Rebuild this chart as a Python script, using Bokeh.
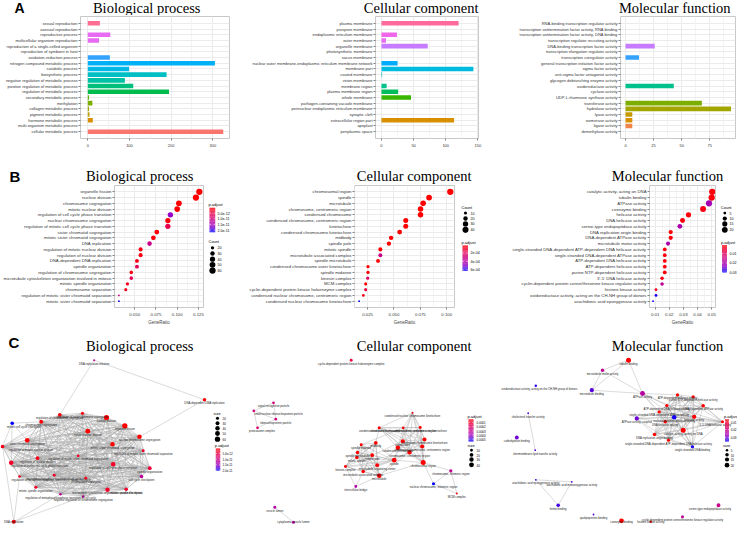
import itertools
import numpy as np
from bokeh.plotting import figure
from bokeh.layouts import row, column
from bokeh.models import FactorRange, Range1d, FixedTicker, PrintfTickFormatter, ColumnDataSource
from bokeh.core.properties import value
from bokeh.embed import file_html
from bokeh.resources import INLINE

SANS = "Liberation Sans"
SERIF = "Liberation Serif"
TFS = "14.5px"

# ===================== DATA =====================
# ---- Panel A: GO level bars
a_bp_terms = ["sexual reproduction", "asexual reproduction", "reproductive process",
              "multicellular organism reproduction", "reproduction of a single-celled organism",
              "reproduction of symbiont in host", "oxidation-reduction process",
              "nitrogen compound metabolic process", "catabolic process", "biosynthetic process",
              "negative regulation of metabolic process", "positive regulation of metabolic process",
              "regulation of metabolic process", "secondary metabolic process", "methylation",
              "collagen metabolic process", "pigment metabolic process", "hormone metabolic process",
              "multi-organism metabolic process", "cellular metabolic process"]
a_bp_counts = [29, 0, 54, 27, 0, 0, 53, 305, 99, 189, 89, 109, 195, 3, 11, 3, 4, 12, 0, 325]
a_bp_hue = ["#FF6C91", "#FD61D1", "#E76BF3", "#E76BF3", "#C77CFF", "#9590FF", "#35A2FF",
            "#00B0F6", "#00B8E7", "#00BFC4", "#00C1A3", "#00BF7D", "#00BB4E", "#5BB300",
            "#7CAE00", "#A3A500", "#B79F00", "#D89000", "#E7861B", "#F8766D"]

a_cc_terms = ["plasma membrane", "prospore membrane", "endoplasmic reticulum membrane", "outer membrane",
              "organelle membrane", "photosynthetic membrane", "sacus membrane",
              "nuclear outer membrane-endoplasmic reticulum membrane network", "membrane part",
              "coated membrane", "virion membrane", "membrane region", "plasma membrane region",
              "whole membrane", "pathogen-containing vacuole membrane",
              "perinuclear endoplasmic reticulum membrane", "synaptic cleft", "extracellular region part",
              "apoplast", "periplasmic space"]
a_cc_counts = [120, 0, 24, 7, 72, 0, 0, 25, 143, 1, 0, 8, 26, 46, 0, 0, 0, 113, 0, 0]
a_cc_hue = ["#FF699C", "#FD61D1", "#F066EA", "#E76BF3", "#C77CFF", "#A58AFF", "#7F96FF",
            "#00ACFC", "#00BAE0", "#00BFC4", "#00C1A7", "#00C08B", "#00BD5C", "#39B600",
            "#6BB100", "#8FAA00", "#ABA300", "#D89000", "#E58700", "#F8766D"]

a_mf_terms = ["RNA-binding transcription regulator activity",
              "transcription antitermination factor activity, RNA binding",
              "transcription antitermination factor activity, DNA binding",
              "transcription regulator recruiting activity", "DNA-binding transcription factor activity",
              "transcription elongation regulator activity", "transcription coregulator activity",
              "general transcription initiation factor activity", "sigma factor activity",
              "anti-sigma factor antagonist activity", "glycogen debranching enzyme activity",
              "oxidoreductase activity", "cyclase activity", "UDP-L-rhamnose synthase activity",
              "transferase activity", "hydrolase activity", "lyase activity", "isomerase activity",
              "ligase activity", "demethylase activity"]
a_mf_counts = [0, 0, 0, 0, 26, 0, 12, 0, 0, 0, 0, 43, 0, 0, 68, 94, 6, 6, 6, 0]
a_mf_hue = ["#FF6C91", "#FD61D1", "#E76BF3", "#D774FB", "#C77CFF", "#7F96FF", "#35A2FF",
            "#00B0F6", "#00BAE0", "#00BFC4", "#00C1A7", "#00C08B", "#00BD5C", "#39B600",
            "#7CAE00", "#A3A500", "#C49A00", "#D89000", "#F08449", "#F8766D"]

# ---- Panel B: enrichment dot plots
b_bp_terms = ["organelle fission", "nuclear division", "chromosome segregation", "mitotic nuclear division",
              "regulation of cell cycle phase transition", "nuclear chromosome segregation",
              "regulation of mitotic cell cycle phase transition", "sister chromatid segregation",
              "mitotic sister chromatid segregation", "DNA replication", "regulation of mitotic nuclear division",
              "regulation of nuclear division", "DNA-dependent DNA replication", "spindle organization",
              "regulation of chromosome segregation", "microtubule cytoskeleton organization involved in mitosis",
              "mitotic spindle organization", "chromosome separation",
              "regulation of mitotic sister chromatid separation", "mitotic sister chromatid separation"]
b_bp_ratio = [0.126, 0.122, 0.102, 0.100, 0.092, 0.089, 0.089, 0.076, 0.072, 0.0675,
              0.057, 0.057, 0.0527, 0.0527, 0.046, 0.046, 0.0415, 0.0396, 0.0315, 0.0315]
b_bp_count = [60, 58, 49, 48, 44, 42, 42, 36, 34, 32, 27, 27, 25, 25, 22, 22, 20, 19, 15, 15]
b_bp_padj = [1e-13, 1e-13, 3e-13, 3e-13, 1.65e-11, 8e-13, 5.5e-12, 1e-12, 1e-12, 1.1e-11,
             1.5e-12, 1.5e-12, 2e-12, 6.5e-12, 2e-12, 6e-12, 2.5e-12, 2e-12, 1.0e-11, 2.15e-11]

b_cc_terms = ["chromosomal region", "spindle", "microtubule", "chromosome, centromeric region",
              "condensed chromosome", "condensed chromosome, centromeric region", "kinetochore",
              "condensed chromosome kinetochore", "midbody", "spindle pole", "mitotic spindle",
              "microtubule associated complex", "spindle microtubule", "condensed chromosome outer kinetochore",
              "spindle midzone", "kinesin complex", "MCM complex",
              "cyclin-dependent protein kinase holoenzyme complex",
              "condensed nuclear chromosome, centromeric region", "condensed nuclear chromosome kinetochore"]
b_cc_ratio = [0.1034, 0.0833, 0.0777, 0.0752, 0.0752, 0.0612, 0.0612, 0.0554, 0.0473, 0.0452,
              0.0371, 0.0371, 0.0349, 0.0254, 0.0254, 0.0251, 0.0232, 0.0232, 0.0210, 0.0170]
b_cc_count = [44, 36, 33, 32, 32, 26, 26, 24, 20, 19, 16, 16, 15, 11, 11, 11, 10, 10, 9, 7]
b_cc_padj = [1e-6, 1e-6, 1e-6, 1e-6, 1e-6, 2e-6, 2e-6, 3e-6, 1e-5, 1e-5, 1.5e-5, 3.2e-4, 2e-5,
             2e-5, 2e-5, 2.0e-4, 3e-5, 1.4e-4, 6e-5, 6.3e-4]

b_mf_terms = ["catalytic activity, acting on DNA", "tubulin binding", "ATPase activity", "coenzyme binding",
              "helicase activity", "DNA helicase activity", "serine-type endopeptidase activity",
              "DNA replication origin binding", "DNA-dependent ATPase activity", "microtubule motor activity",
              "single-stranded DNA-dependent ATP-dependent DNA helicase activity",
              "single-stranded DNA-dependent ATPase activity", "ATP-dependent DNA helicase activity",
              "ATP-dependent helicase activity", "purine NTP-dependent helicase activity",
              "3'-5' DNA helicase activity", "cyclin-dependent protein serine/threonine kinase regulator activity",
              "histone kinase activity", "oxidoreductase activity, acting on the CH-NH group of donors",
              "arachidonic acid epoxygenase activity"]
b_mf_ratio = [0.0504, 0.0500, 0.0481, 0.0439, 0.0336, 0.0294, 0.0275, 0.0210, 0.0210, 0.0191,
              0.0168, 0.0168, 0.0168, 0.0168, 0.0168, 0.0149, 0.0149, 0.0106, 0.0106, 0.0085]
b_mf_count = [24, 24, 23, 21, 16, 14, 13, 10, 10, 9, 8, 8, 8, 8, 8, 7, 7, 5, 5, 4]
b_mf_padj = [0.002, 0.002, 0.021, 0.003, 0.002, 0.002, 0.020, 0.002, 0.002, 0.020,
             0.002, 0.002, 0.002, 0.002, 0.002, 0.003, 0.017, 0.004, 0.029, 0.030]

# ---- Panel C: enrichment maps (node layout in figure pixels)
c_bp_names = ["DNA replication initiation", "DNA-dependent DNA replication", "DNA replication",
              "mitotic cell cycle checkpoint", "regulation of chromosome segregation", "chromosome segregation",
              "regulation of sister chromatid segregation", "nuclear division", "organelle fission",
              "mitotic nuclear division", "nuclear chromosome segregation", "sister chromatid segregation",
              "mitotic sister chromatid segregation", "regulation of mitotic nuclear division",
              "regulation of mitotic sister chromatid separation", "regulation of nuclear division",
              "regulation of mitotic sister chromatid segregation",
              "regulation of mitotic cell cycle phase transition", "regulation of cell cycle phase transition",
              "spindle organization", "metaphase/anaphase transition of cell cycle",
              "regulation of metaphase/anaphase transition of mitotic cell cycle", "chromosome separation",
              "cell cycle checkpoint", "mitotic spindle organization",
              "microtubule cytoskeleton organization involved in mitosis", "mitotic spindle checkpoint",
              "regulation of metaphase/anaphase transition of cell cycle",
              "negative regulation of chromosome segregation"]
c_bp_x = [101.7, 212.0, 21.3, 19.7, 67.3, 48.7, 90.0, 114.0, 132.3, 95.3, 147.0, 34.7, 120.0, 10.0,
          150.7, 45.0, 85.7, 18.7, 120.7, 157.3, 61.7, 27.0, 93.3, 149.0, 43.3, 115.0, 133.7, 68.0, 90.7]
c_bp_y = [372.7, 412.3, 534.3, 435.7, 427.3, 434.3, 425.7, 430.0, 438.3, 443.7, 449.3, 452.7, 456.7,
          459.0, 463.3, 470.7, 468.3, 475.3, 476.7, 480.7, 487.7, 489.0, 490.7, 489.0, 499.7, 502.3,
          501.7, 506.7, 509.0]
c_bp_count = [15, 25, 32, 25, 27, 30, 20, 58, 60, 48, 42, 44, 38, 27, 18, 27, 17, 42, 44, 27, 18, 17,
              19, 26, 20, 40, 24, 16, 16]
c_bp_padj = [1.1e-11, 1e-12, 1e-12, 2.05e-11, 1e-12, 1e-12, 1e-12, 1e-13, 1e-13, 1e-13, 1e-13, 1e-13,
             1e-13, 2e-12, 3e-12, 2e-12, 3e-12, 3e-12, 3e-12, 4e-12, 3e-12, 3e-12, 2e-12, 1.2e-11,
             3e-12, 3e-12, 3e-12, 1.1e-11, 1.2e-11]
c_bp_cluster = list(range(4, 29))
c_bp_links = [(0, 1), (0, 4), (1, 10), (2, 13), (2, 21), (2, 27), (2, 28), (3, 5), (3, 11), (3, 13), (3, 17)]

c_cc_names = ["cyclin-dependent protein kinase holoenzyme complex", "signal recognition particle",
              "small nuclear ribonucleoprotein particle", "ribonucleoprotein particle", "proteasome complex",
              "vesicle lumen", "cytoplasmic vesicle lumen", "condensed nuclear chromosome kinetochore",
              "condensed nuclear chromosome", "condensed nuclear chromosome, centromeric region",
              "condensed chromosome outer kinetochore", "condensed chromosome kinetochore", "kinetochore",
              "midbody", "spindle midzone", "condensed chromosome", "condensed chromosome, centromeric region",
              "chromosome, centromeric region", "spindle microtubule", "spindle pole", "spindle",
              "chromosomal region", "mitotic spindle", "microtubule organizing center", "kinesin complex",
              "microtubule associated complex", "microtubule", "intercellular bridge",
              "chromosome, telomeric region", "nuclear chromosome, telomeric region", "MCM complex"]
c_cc_x = [358.7, 281.0, 261.3, 283.3, 265.0, 282.3, 301.0, 420.0, 386.7, 410.7, 427.7, 432.0, 410.3,
          383.3, 368.7, 405.3, 429.7, 417.0, 365.0, 379.7, 401.7, 430.7, 364.3, 384.7, 353.0, 370.7,
          386.7, 363.3, 458.3, 441.0, 464.3]
c_cc_y = [372.7, 415.3, 423.3, 431.7, 440.3, 519.7, 534.7, 425.3, 440.3, 440.3, 440.0, 452.0, 453.7,
          455.3, 457.3, 460.3, 459.0, 464.7, 465.0, 467.7, 472.7, 475.0, 470.0, 477.7, 479.0, 484.0,
          488.3, 499.0, 483.3, 496.3, 506.0]
c_cc_count = [10, 9, 9, 9, 9, 12, 12, 7, 12, 9, 11, 24, 26, 20, 11, 32, 26, 32, 15, 19, 36, 44, 16,
              20, 11, 16, 33, 10, 14, 12, 7]
c_cc_padj = [1.2e-4, 2.5e-4, 2.5e-4, 2.5e-4, 2e-4, 3.5e-4, 3.5e-4, 5e-5, 3e-5, 3e-5, 3e-5, 1e-5, 1e-5,
             1e-5, 3e-5, 1e-5, 1e-5, 1e-5, 2e-5, 2e-5, 1e-5, 1e-5, 2e-5, 2e-5, 3e-5, 3e-5, 1e-5,
             3.5e-4, 3e-4, 5.5e-4, 5e-5]
c_cc_cluster1 = [7, 8, 9, 10, 11, 12, 15, 16, 17, 21]
c_cc_cluster2 = [13, 14, 18, 19, 20, 22, 23, 24, 25, 26]
c_cc_links = [(20, 12), (20, 15), (20, 17), (26, 17), (20, 21), (23, 15), (19, 12), (13, 8), (14, 9),
              (26, 21), (23, 17), (1, 2), (1, 3), (2, 3), (2, 4), (3, 4), (5, 6), (27, 24), (27, 26),
              (27, 25), (21, 28), (21, 29), (28, 29), (29, 30), (28, 30)]

c_mf_names = ["tubulin binding", "microtubule motor activity",
              "oxidoreductase activity, acting on the CH-NH group of donors", "microtubule binding",
              "ATPase activity", "ATPase activity, coupled", "ATP-dependent helicase activity",
              "purine NTP-dependent helicase activity", "ATP-dependent DNA helicase activity",
              "DNA-dependent ATPase activity", "single-stranded DNA-dependent ATPase activity",
              "nucleoside-triphosphatase activity", "helicase activity", "DNA helicase activity",
              "3'-5' DNA helicase activity", "catalytic activity, acting on DNA", "DNA replication origin binding",
              "single-stranded DNA-dependent ATP-dependent DNA helicase activity", "single-stranded DNA binding",
              "cholesterol transfer activity", "carbohydrate binding", "intermembrane lipid transfer activity",
              "arachidonic acid epoxygenase activity", "arachidonic acid monooxygenase activity",
              "heme binding", "apolipoprotein binding", "coenzyme binding", "histone kinase activity",
              "serine-type endopeptidase activity",
              "cyclin-dependent protein serine/threonine kinase regulator activity"]
c_mf_x = [636.0, 610.0, 543.3, 599.3, 650.0, 644.3, 685.0, 700.7, 674.3, 710.7, 666.7, 681.7, 701.7,
          672.7, 730.0, 690.7, 662.0, 676.0, 700.0, 535.7, 524.3, 542.7, 543.3, 579.3, 565.7, 601.0,
          629.0, 658.3, 726.0, 690.0]
c_mf_y = [372.7, 382.7, 398.3, 402.7, 406.0, 431.0, 407.3, 409.3, 418.0, 418.3, 424.3, 429.7, 429.3,
          434.3, 434.3, 442.7, 447.0, 452.7, 459.3, 425.7, 450.0, 462.7, 492.3, 494.3, 517.7, 527.0,
          533.3, 534.3, 517.7, 529.3]
c_mf_count = [24, 9, 5, 16, 23, 16, 8, 8, 8, 10, 8, 18, 16, 10, 7, 24, 10, 8, 8, 4, 12, 4, 4, 4, 10,
              4, 21, 5, 13, 7]
c_mf_padj = [0.006, 0.022, 0.033, 0.031, 0.024, 0.030, 0.006, 0.006, 0.006, 0.006, 0.006, 0.034,
             0.006, 0.006, 0.006, 0.006, 0.006, 0.006, 0.034, 0.031, 0.030, 0.031, 0.032, 0.031,
             0.032, 0.031, 0.006, 0.007, 0.021, 0.022]
c_mf_cluster = list(range(6, 19))
c_mf_links = [(0, 1), (0, 3), (0, 4), (1, 3), (1, 4), (3, 4), (4, 6), (4, 8), (4, 10), (4, 11), (4, 12),
              (4, 13), (5, 10), (5, 11), (5, 13), (5, 16), (5, 17), (5, 12), (19, 21), (22, 23),
              (22, 24), (23, 24)]

# panel titles and letters
titles = ["Biological process", "Cellular component", "Molecular function"]
letters = ["A", "B", "C"]

# ===================== HELPERS =====================
ANCH = ["#FF0000", "#E7004F", "#C90089", "#9900C3", "#0000FF"]


def _rgb(h):
    return tuple(int(h[i:i + 2], 16) for i in (1, 3, 5))


def pal(t):
    t = min(max(t, 0.0), 1.0)
    pos = t * (len(ANCH) - 1)
    i = min(int(pos), len(ANCH) - 2)
    f = pos - i
    a, b = _rgb(ANCH[i]), _rgb(ANCH[i + 1])
    return "#%02X%02X%02X" % tuple(int(round(a[k] + (b[k] - a[k]) * f)) for k in range(3))


def pcol(vals, lo, hi):
    return [pal((v - lo) / (hi - lo)) for v in vals]


def diam(vals, cmin, cmax, dmin, dmax):
    return [dmin + (dmax - dmin) * np.sqrt(max(0.0, (v - cmin) / (cmax - cmin))) for v in vals]


def style_axes(p, fy, fx):
    for ax in (p.xaxis[0], p.yaxis[0]):
        ax.axis_line_color = None
        ax.major_tick_line_color = "#333333"
        ax.major_tick_line_width = 0.6
        ax.major_tick_in = 0
        ax.major_tick_out = 2
        ax.minor_tick_line_color = None
        ax.major_label_text_font = SANS
        ax.major_label_text_color = "#333333"
        ax.major_label_standoff = 1
    p.yaxis.major_label_text_font_size = fy
    p.xaxis.major_label_text_font_size = fx
    p.outline_line_color = "#C8C8C8"
    p.xgrid.grid_line_color = "#EBEBEB"
    p.xgrid.minor_grid_line_color = "#F4F4F4"
    p.ygrid.grid_line_color = "#EBEBEB"


def blank(width, height, xr, ytop, ybot):
    p = figure(width=width, height=height, x_range=Range1d(*xr), y_range=Range1d(ybot, ytop),
               x_axis_type=None, y_axis_type=None, output_backend="svg", toolbar_location=None,
               min_border=0)
    p.outline_line_color = None
    return p


def txt(p, xs, ys, texts, size, align="left", base="middle", font=SANS, style="normal", color="black"):
    p.text(x=xs, y=ys, text=texts, text_font=value(font), text_font_size=size, text_align=align,
           text_baseline=base, text_font_style=style, text_color=color)


def bar_panel(terms, counts, hues, xr, ticks, minor, width, left, right):
    p = figure(width=width, height=150, x_range=Range1d(*xr),
               y_range=FactorRange(factors=terms[::-1], range_padding=0.7, range_padding_units="absolute"),
               output_backend="svg", toolbar_location=None, min_border_left=left, min_border_right=right,
               min_border_top=1, min_border_bottom=27)
    src = ColumnDataSource(dict(term=terms, count=counts, hue=hues))
    p.hbar(y="term", left=0, right="count", height=0.8, fill_color="hue", line_color=None, source=src)
    style_axes(p, "4px", "4px")
    p.xaxis.ticker = FixedTicker(ticks=ticks, minor_ticks=minor)
    return p


def dot_panel(terms, ratio, count, padj, xr, ticks, minor, fmt, width, left, right, clo, chi, cmin, cmax):
    p = figure(width=width, height=143, x_range=Range1d(*xr),
               y_range=FactorRange(factors=terms[::-1], range_padding=0.6, range_padding_units="absolute"),
               output_backend="svg", toolbar_location=None, min_border_left=left, min_border_right=right,
               min_border_top=1, min_border_bottom=20)
    src = ColumnDataSource(dict(term=terms, ratio=ratio, d=diam(count, cmin, cmax, 1.8, 6.3),
                                col=pcol(padj, clo, chi)))
    p.scatter(x="ratio", y="term", size="d", fill_color="col", line_color=None, source=src)
    style_axes(p, "4.3px", "4.3px")
    p.xaxis.ticker = FixedTicker(ticks=ticks, minor_ticks=minor)
    p.xaxis.formatter = PrintfTickFormatter(format=fmt)
    p.xaxis.axis_label = "GeneRatio"
    p.xaxis.axis_label_text_font = SANS
    p.xaxis.axis_label_text_font_size = "4.5px"
    p.xaxis.axis_label_text_font_style = "normal"
    p.xaxis.axis_label_standoff = 1
    return p


def color_legend(p, title, x0, x1, y0, y1, lo, hi, ticks, labels, ty, lx, fs="3.6px"):
    n = 40
    e = np.linspace(y0, y1, n + 1)
    mids = lo + (hi - lo) * (np.arange(n) + 0.5) / n
    p.quad(left=x0, right=x1, top=list(e[:-1]), bottom=list(e[1:]), fill_color=pcol(mids, lo, hi),
           line_color=None)
    tys = [y0 + (t - lo) / (hi - lo) * (y1 - y0) for t in ticks]
    p.segment(x0=[x0] * len(tys), x1=[x0 + (x1 - x0) * 0.25] * len(tys), y0=tys, y1=tys,
              line_color="white", line_width=0.5)
    p.segment(x0=[x1] * len(tys), x1=[x1 - (x1 - x0) * 0.25] * len(tys), y0=tys, y1=tys,
              line_color="white", line_width=0.5)
    txt(p, [lx] * len(tys), tys, labels, fs)
    txt(p, [x0 - 1], [ty], [title], "4px")


def size_legend(p, title, breaks, x, ys, ty, lx, ds, fs="3.6px"):
    p.scatter(x=[x] * len(ys), y=ys, size=ds, fill_color="black", line_color=None)
    txt(p, [lx] * len(ys), ys, [str(b) for b in breaks], fs)
    txt(p, [x - 4], [ty], [title], "4px")


def network(width, xr, names, xs, ys, counts, padj, clusters, links, lo, hi, dmin, dmax, title, tcx):
    y_bottom = 537
    p = blank(width, 197, xr, 340, y_bottom)
    edges = list(links)
    for cl in clusters:
        edges += list(itertools.combinations(cl, 2))
    p.segment(x0=[xs[i] for i, j in edges], y0=[ys[i] for i, j in edges],
              x1=[xs[j] for i, j in edges], y1=[ys[j] for i, j in edges],
              line_color="#A6A6A6", line_width=0.5, line_alpha=0.8)
    p.scatter(x=xs, y=ys, size=diam(counts, min(counts), max(counts), dmin, dmax),
              fill_color=pcol(padj, lo, hi), line_color=None)
    lxs, lys = [], []
    for nm, x, y in zip(names, xs, ys):
        hw = len(nm) * 0.75 + 2
        lxs.append(min(max(x, xr[0] + hw), xr[1] - hw))
        lys.append(min(y + 1.5, y_bottom - 4.5))
    txt(p, lxs, lys, names, "2.8px", align="center", base="top", color="#222222")
    txt(p, [tcx], [358.3], [title], TFS, align="center", font=SERIF)
    return p


# ===================== ROW A =====================
stripA = blank(737, 15, (8, 745), 8, 23)
txt(stripA, [154.2, 428.7, 682.2], [15.5, 15.5, 15.5], titles, TFS, align="center", font=SERIF)
txt(stripA, [22], [15.5], [letters[0]], "14px", style="bold")

a1 = bar_panel(a_bp_terms, a_bp_counts, a_bp_hue, (-17.5, 340), [0, 100, 200, 300], [50, 150, 250],
               246, 80, 17)
a2 = bar_panel(a_cc_terms, a_cc_counts, a_cc_hue, (-9.3, 151), [0, 50, 100, 150], [25, 75, 125],
               246, 129, 14)
a3 = bar_panel(a_mf_terms, a_mf_counts, a_mf_hue, (-4.5, 98), [0, 25, 50, 75], [12.5, 37.5, 62.5, 87.5],
               245, 128, 2)

# ===================== ROW B =====================
stripB = blank(737, 19, (8, 745), 173, 192)
txt(stripB, [147.2, 421.7, 675.0], [183.0, 183.0, 183.0], titles, TFS, align="center", font=SERIF)
txt(stripB, [17], [184], [letters[1]], "15px", style="bold")

BP_LO, BP_HI = 0.3e-12, 2.18e-11
CC_LO, CC_HI = 0.26e-4, 6.26e-4
MF_LO, MF_HI = 0.001, 0.0302
b1 = dot_panel(b_bp_terms, b_bp_ratio, b_bp_count, b_bp_padj, (0.0263, 0.1309), [0.05, 0.075, 0.1, 0.125],
               [0.0375, 0.0625, 0.0875, 0.1125], "%.3f", 204, 109, 1, BP_LO, BP_HI, 15, 60)
b2 = dot_panel(b_cc_terms, b_cc_ratio, b_cc_count, b_cc_padj, (0.0126, 0.1074), [0.025, 0.05, 0.075, 0.1],
               [0.0125, 0.0375, 0.0625, 0.0875], "%.3f", 214, 106, 6, CC_LO, CC_HI, 7, 44)
b3 = dot_panel(b_mf_terms, b_mf_ratio, b_mf_count, b_mf_padj, (0.006, 0.0527), [0.01, 0.02, 0.03, 0.04, 0.05],
               [0.015, 0.025, 0.035, 0.045], "%.2f", 225, 157, 2, MF_LO, MF_HI, 4, 24)

l1 = blank(42, 143, (212, 254), 192, 335)
color_legend(l1, "p.adjust", 217, 222.7, 218, 246.7, BP_LO, BP_HI, [5e-12, 1e-11, 1.5e-11, 2e-11],
             ["5.0e-12", "1.0e-11", "1.5e-11", "2.0e-11"], 214, 225)
bp_breaks = [20, 30, 40, 50, 60]
size_legend(l1, "Count", bp_breaks, 220, [265, 271.7, 278.3, 285, 291.7], 257.7, 225,
            diam(bp_breaks, 15, 60, 1.8, 6.3))

l2 = blank(32, 143, (468, 500), 192, 335)
cc_breaks = [10, 20, 30, 40]
size_legend(l2, "Count", cc_breaks, 473, [224.3, 230.7, 237, 244], 217.7, 478,
            diam(cc_breaks, 7, 44, 1.8, 6.3))
color_legend(l2, "p.adjust", 470, 475.5, 262.3, 292.3, CC_LO, CC_HI, [2e-4, 4e-4, 6e-4],
             ["2e-04", "4e-04", "6e-04"], 259, 478)

l3 = blank(20, 143, (725, 745), 192, 335)
mf_breaks = [5, 10, 15, 20]
size_legend(l3, "Count", mf_breaks, 732.3, [224.3, 230.7, 237, 244], 217.7, 737,
            diam(mf_breaks, 4, 24, 1.8, 6.3))
color_legend(l3, "p.adjust", 729.5, 734.5, 262, 294, MF_LO, MF_HI, [0.01, 0.02, 0.03],
             ["0.01", "0.02", "0.03"], 259, 737)

# ===================== ROW C =====================
C_BP_LO, C_BP_HI = 0.5e-12, 2.05e-11
C_CC_LO, C_CC_HI = 0.21e-4, 5.55e-4
C_MF_LO, C_MF_HI = 0.0067, 0.035
c1 = network(246, (8, 254), c_bp_names, c_bp_x, c_bp_y, c_bp_count, c_bp_padj, [c_bp_cluster], c_bp_links,
             C_BP_LO, C_BP_HI, 2.0, 5.3, titles[0], 147.2)
txt(c1, [16], [355], [letters[2]], "15px", style="bold")
size_legend(c1, "size", bp_breaks, 225, [430.7, 435.7, 440.7, 446, 451.7], 425.7, 230,
            diam(bp_breaks, 15, 60, 2.0, 5.3), fs="3px")
color_legend(c1, "p.adjust", 223.3, 227.7, 461, 483.3, C_BP_LO, C_BP_HI, [5e-12, 1e-11, 1.5e-11, 2e-11],
             ["5.0e-12", "1.0e-11", "1.5e-11", "2.0e-11"], 457.7, 230, fs="3px")

c2 = network(246, (254, 500), c_cc_names, c_cc_x, c_cc_y, c_cc_count, c_cc_padj,
             [c_cc_cluster1, c_cc_cluster2], c_cc_links, C_CC_LO, C_CC_HI, 2.0, 5.0, titles[1], 421.7)
color_legend(c2, "p.adjust", 476, 481, 431.7, 454, C_CC_LO, C_CC_HI, [1e-4, 2e-4, 3e-4, 4e-4, 5e-4],
             ["0.0001", "0.0002", "0.0003", "0.0004", "0.0005"], 428.5, 484, fs="3px")
size_legend(c2, "size", cc_breaks, 479, [462.7, 467.3, 472, 477.3], 458.3, 484,
            diam(cc_breaks, 7, 44, 2.0, 5.0), fs="3px")

c3 = network(245, (500, 745), c_mf_names, c_mf_x, c_mf_y, c_mf_count, c_mf_padj, [c_mf_cluster], c_mf_links,
             C_MF_LO, C_MF_HI, 1.8, 5.0, titles[2], 675)
color_legend(c3, "p.adjust", 732.5, 736.5, 431.7, 454, C_MF_LO, C_MF_HI, [0.01, 0.02, 0.03],
             ["0.01", "0.02", "0.03"], 428.5, 738.2, fs="3px")
size_legend(c3, "size", mf_breaks, 734.5, [462.7, 467.3, 472, 477.7], 458.3, 738.2,
            diam(mf_breaks, 4, 24, 1.8, 5.0), fs="3px")

layout = column(stripA, row(a1, a2, a3), stripB, row(b1, l1, b2, l2, b3, l3), row(c1, c2, c3))
open("out.html", "w").write(file_html(layout, INLINE))
